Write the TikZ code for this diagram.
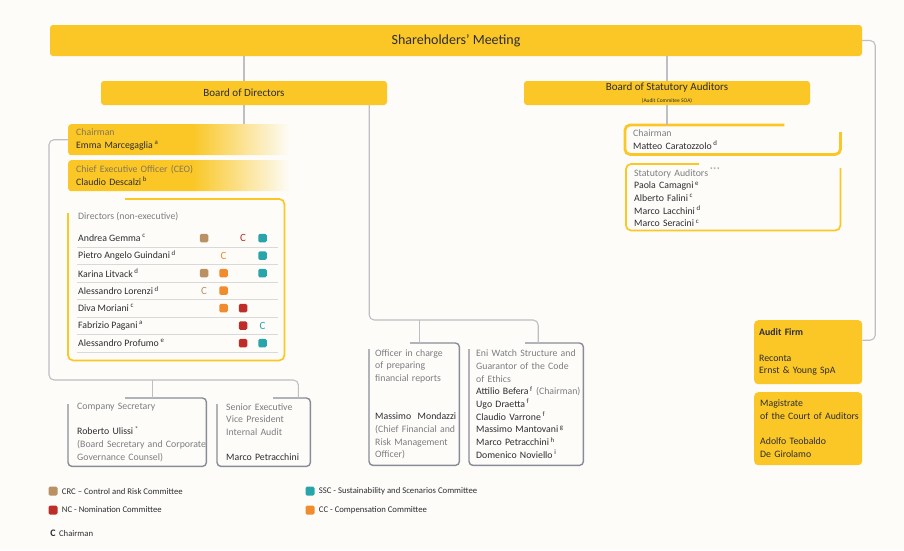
\documentclass[tikz,border=0pt]{standalone}
\usepackage{fontspec}
\setmainfont{Carlito}
\usepackage{xcolor}
\usepackage{tikz}
\usetikzlibrary{positioning, calc}
\definecolor{eniyellow}{RGB}{250, 199, 38}
\definecolor{paper}{RGB}{253, 252, 249}
\definecolor{linegray}{RGB}{190, 190, 195}
\definecolor{boxgray}{RGB}{135, 140, 150}
\definecolor{textdark}{RGB}{45, 45, 50}
\definecolor{textlight}{RGB}{125, 125, 130}
\definecolor{texttan}{RGB}{135, 118, 85}
\definecolor{crcbrown}{RGB}{185, 145, 100}
\definecolor{ncred}{RGB}{190, 45, 40}
\definecolor{ccorange}{RGB}{240, 140, 45}
\definecolor{sscteal}{RGB}{40, 165, 170}
\pgfdeclarehorizontalshading{yfade}{100bp}{color(0bp)=(eniyellow); color(25bp)=(eniyellow); color(53bp)=(eniyellow); color(75bp)=(paper); color(100bp)=(paper)}
\newcommand{\lab}[1]{\textcolor{textlight}{#1}}
\newcommand{\fnm}[1]{\,\textsuperscript{#1}}

\begin{document}
\begin{tikzpicture}[
    x=1pt, y=-1pt,
    font=\fontsize{9.8}{12.7}\selectfont, text=textdark,
    ybar/.style={rectangle, fill=eniyellow, rounded corners=3pt, inner sep=0pt},
    fadebox/.style={rectangle, shade, shading=yfade, rounded corners=3pt, anchor=north west, text width=206pt, inner xsep=8pt, minimum height=31pt, align=left},
    gbox/.style={rectangle, anchor=north west, inner xsep=0pt, align=left, execute at begin node={\leftskip=#1\relax\hyphenpenalty=10000\relax}},
    gbox/.default=8pt,
    ybox/.style={gbox=#1, fill=eniyellow, rounded corners=4pt},
    ybox/.default=5pt,
    conn/.style={draw=linegray, line width=1.1pt, rounded corners=5pt},
    gline/.style={draw=boxgray, line width=1.4pt, rounded corners=4pt},
    yline/.style={draw=eniyellow, line width=1.7pt, rounded corners=5pt},
    sep/.style={draw=black!15, line width=0.6pt},
    csq/.style={rectangle, minimum size=8.5pt, inner sep=0pt, rounded corners=1.5pt},
    cmark/.style={inner sep=0pt, font=\fontsize{11}{11}\selectfont},
    legend/.style={inner sep=0pt, font=\fontsize{8.7}{10}\selectfont}
]
    % Background
    \fill[paper] (0,0) rectangle (904,550);
    \useasboundingbox (0,0) rectangle (904,550);

    % Governing bodies
    \node[ybar, minimum width=812pt, minimum height=31pt] (sm) at (456,40.5) {\fontsize{14}{16}\selectfont Shareholders' Meeting};
    \node[ybar, minimum width=286pt, minimum height=24pt] (bod) at (244,93) {\fontsize{11}{12}\selectfont Board of Directors};
    \node[ybar, minimum width=286pt, minimum height=24pt, align=center] (bsa) at (667,93) {\fontsize{11}{11}\selectfont Board of Statutory Auditors\\[-1.5pt] \fontsize{5.5}{6}\selectfont (Audit Commitee SOA)};

    % Board of Directors
    \node[fadebox] (chair) at (68,124) {\textcolor{texttan}{Chairman}\\ Emma Marcegaglia\fnm{a}};
    \node[fadebox] (ceo) at (68,160) {\textcolor{texttan}{Chief Executive Officer (CEO)}\\ Claudio Descalzi\fnm{b}};

    \node[minimum width=216pt, minimum height=161pt, anchor=north west, inner sep=0pt] (dirs) at (68,199) {};
    \draw[yline] ($(dirs.north west)+(57,0)$) -- (dirs.north east) -- (dirs.south east) -- (dirs.south west) -- ($(dirs.north west)+(0,14)$);
    \node[anchor=west, inner sep=0pt, text=textlight] (dirhead) at (78,217) {Directors (non-executive)};
    \foreach \nm/\s [count=\i] in {Andrea Gemma/c, Pietro Angelo Guindani/d, Karina Litvack/d, Alessandro Lorenzi/d, Diva Moriani/c, Fabrizio Pagani/a, Alessandro Profumo/e}{
        \node[anchor=west, inner sep=0pt] (dir\i) at (78,{220.5+17.5*\i}) {\nm\fnm{\s}};
        \draw[sep] (77,{229.5+17.5*\i}) -- (278,{229.5+17.5*\i});
    }

    % Committees: CRC, CC, NC, SSC columns
    \foreach \r/\c/\clr in {1/1/crcbrown, 1/4/sscteal, 2/4/sscteal, 3/1/crcbrown, 3/2/ccorange, 3/4/sscteal, 4/2/ccorange, 5/2/ccorange, 5/3/ncred, 6/3/ncred, 7/3/ncred, 7/4/sscteal}
        \node[csq, fill=\clr] (m\r-\c) at ({184.5+19.5*\c},{220.5+17.5*\r}) {};
    \foreach \r/\c/\clr in {1/3/ncred, 2/2/ccorange, 4/1/crcbrown, 6/4/sscteal}
        \node[cmark, text=\clr] (m\r-\c) at ({184.5+19.5*\c},{220.5+17.5*\r}) {C};

    % Officers reporting to the Board
    \node[gbox=9pt, text width=138pt, minimum height=68pt] (cs) at (68,398) {\lab{Company Secretary}\\[12.7pt] Roberto Ulissi\fnm{*}\\ \mbox{\lab{(Board Secretary and Corporate}}\\ \lab{Governance Counsel)}};
    \node[gbox=9pt, text width=93pt, minimum height=68pt] (sev) at (217,398) {\lab{Senior Executive}\\ \lab{Vice President}\\ \lab{Internal Audit}\\[12.7pt] Marco Petracchini};
    \node[gbox=6pt, text width=90pt, minimum height=122pt] (off) at (369,343) {\lab{Officer in charge}\\ \lab{of preparing}\\ \lab{financial reports}\\[25.4pt] Massimo~~Mondazzi\\ \mbox{\lab{(Chief Financial and}}\\ \lab{Risk Management}\\ \lab{Officer)}};
    \node[gbox=7pt, text width=114pt, minimum height=122pt] (ew) at (469,343) {\lab{Eni Watch Structure and}\\ \lab{Guarantor of the Code}\\ \lab{of Ethics}\\ Attilio Befera\fnm{f} \lab{(Chairman)}\\ Ugo Draetta\fnm{f}\\ Claudio Varrone\fnm{f}\\ Massimo Mantovani\fnm{g}\\ Marco Petracchini\fnm{h}\\ Domenico Noviello\fnm{i}};
    \foreach \b/\gap in {cs/57, sev/56, off/41, ew/56}
        \draw[gline] ($(\b.north west)+(\gap,0)$) -- (\b.north east) -- (\b.south east) -- (\b.south west) -- ($(\b.north west)+(0,6)$);

    % Board of Statutory Auditors
    \node[gbox=8pt, text width=215pt, minimum height=29pt] (bsachair) at (625,125) {\lab{Chairman}\\ Matteo Caratozzolo\fnm{d}};
    \node[gbox=8pt, text width=214pt, minimum height=66pt] (auditors) at (626,164) {\lab{Statutory Auditors}\fnm{\lab{***}}\\ Paola Camagni\fnm{e}\\ Alberto Falini\fnm{c}\\ Marco Lacchini\fnm{d}\\ Marco Seracini\fnm{c}};
    \draw[yline, line width=2.8pt] ($(bsachair.north east)+(-56,0)$) -- (bsachair.north west) -- (bsachair.south west) -- (bsachair.south east) -- ($(bsachair.north east)+(0,7)$);
    \draw[yline] ($(auditors.north west)+(73,0)$) -- (auditors.north west) -- (auditors.south west) -- (auditors.south east) -- ($(auditors.north east)+(0,4)$);

    % External control
    \node[ybox=5pt, text width=108pt, minimum height=64pt] (af) at (754,320) {\textbf{Audit Firm}\\[12.7pt] Reconta\\ Ernst \& Young SpA};
    \node[ybox=6pt, text width=108pt, minimum height=73pt] (mag) at (754,392) {Magistrate\\ of the Court of Auditors\\[12.7pt] Adolfo Teobaldo\\ De Girolamo};

    % Connectors
    \draw[conn] (sm.south -| bod.north) -- (bod.north);
    \draw[conn] (sm.south -| bsa.north) -- (bsa.north);
    \draw[conn] (bod.south) -- (bod.south |- chair.north);
    \draw[conn] (bsa.south) -- (bsa.south |- bsachair.north);
    \draw[conn] (chair.west) -- ++(-19,0) |- ($(sev.north east)+(-12,-18)$) -- ($(sev.north east)+(-12,0)$);
    \draw[conn] ($(cs.north)+(15,-18)$) -- ($(cs.north)+(15,0)$);
    \draw[conn] ($(bod.south east)+(-18,0)$) |- ($(ew.north)+(12,-23)$) -- ($(ew.north)+(12,0)$);
    \draw[conn] ($(off.north)+(5,-23)$) -- ($(off.north)+(5,0)$);
    \draw[conn] (sm.east) -- ++(13,0) |- ([yshift=12pt]af.east);

    % Legend
    \node[csq, minimum size=9pt, fill=crcbrown] (kcrc) at (53,491) {};
    \node[legend, right=4pt of kcrc] (tcrc) {CRC -- Control and Risk Committee};
    \node[csq, minimum size=9pt, fill=ncred] (knc) at (53,510) {};
    \node[legend, right=4pt of knc] (tnc) {NC - Nomination Committee};
    \node[csq, minimum size=9pt, fill=sscteal] (kssc) at (310,491) {};
    \node[legend, right=4pt of kssc] (tssc) {SSC - Sustainability and Scenarios Committee};
    \node[csq, minimum size=9pt, fill=ccorange] (kcc) at (310,510) {};
    \node[legend, right=4pt of kcc] (tcc) {CC - Compensation Committee};
    \node[inner sep=0pt, font=\bfseries\fontsize{10}{10}\selectfont] (kc) at (53,533) {C};
    \node[legend, right=3pt of kc] (tc) {Chairman};
\end{tikzpicture}
\end{document}
